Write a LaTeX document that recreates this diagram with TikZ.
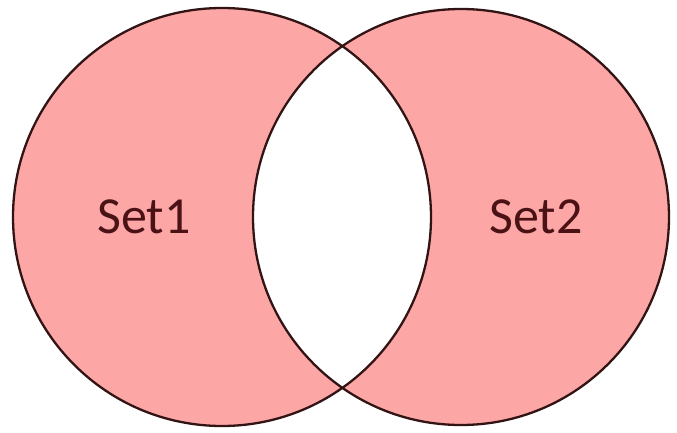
\documentclass[tikz,border=0pt]{standalone}
\usepackage{fontspec}
\setmainfont{Carlito}
\definecolor{setfill}{RGB}{252,166,166}
\definecolor{setline}{RGB}{50,20,20}
\definecolor{settext}{RGB}{75,18,22}
\begin{document}
\begin{tikzpicture}[x=1pt,y=1pt,
  setlabel/.style={font=\fontsize{52}{52}\selectfont, text=settext, inner sep=0pt}]
\useasboundingbox (0,0) rectangle (677,432);
\coordinate (cA) at (222,215);
\coordinate (cB) at (461,215);
\fill[setfill, even odd rule] (cA) circle[radius=209] (cB) circle[radius=208];
\draw[setline, line width=2.3pt] (cA) circle[radius=209];
\draw[setline, line width=2.3pt] (cB) circle[radius=208];
\node[setlabel] (s1) at (144,215) {Set1};
\node[setlabel] (s2) at (536,215) {Set2};
\end{tikzpicture}
\end{document}
